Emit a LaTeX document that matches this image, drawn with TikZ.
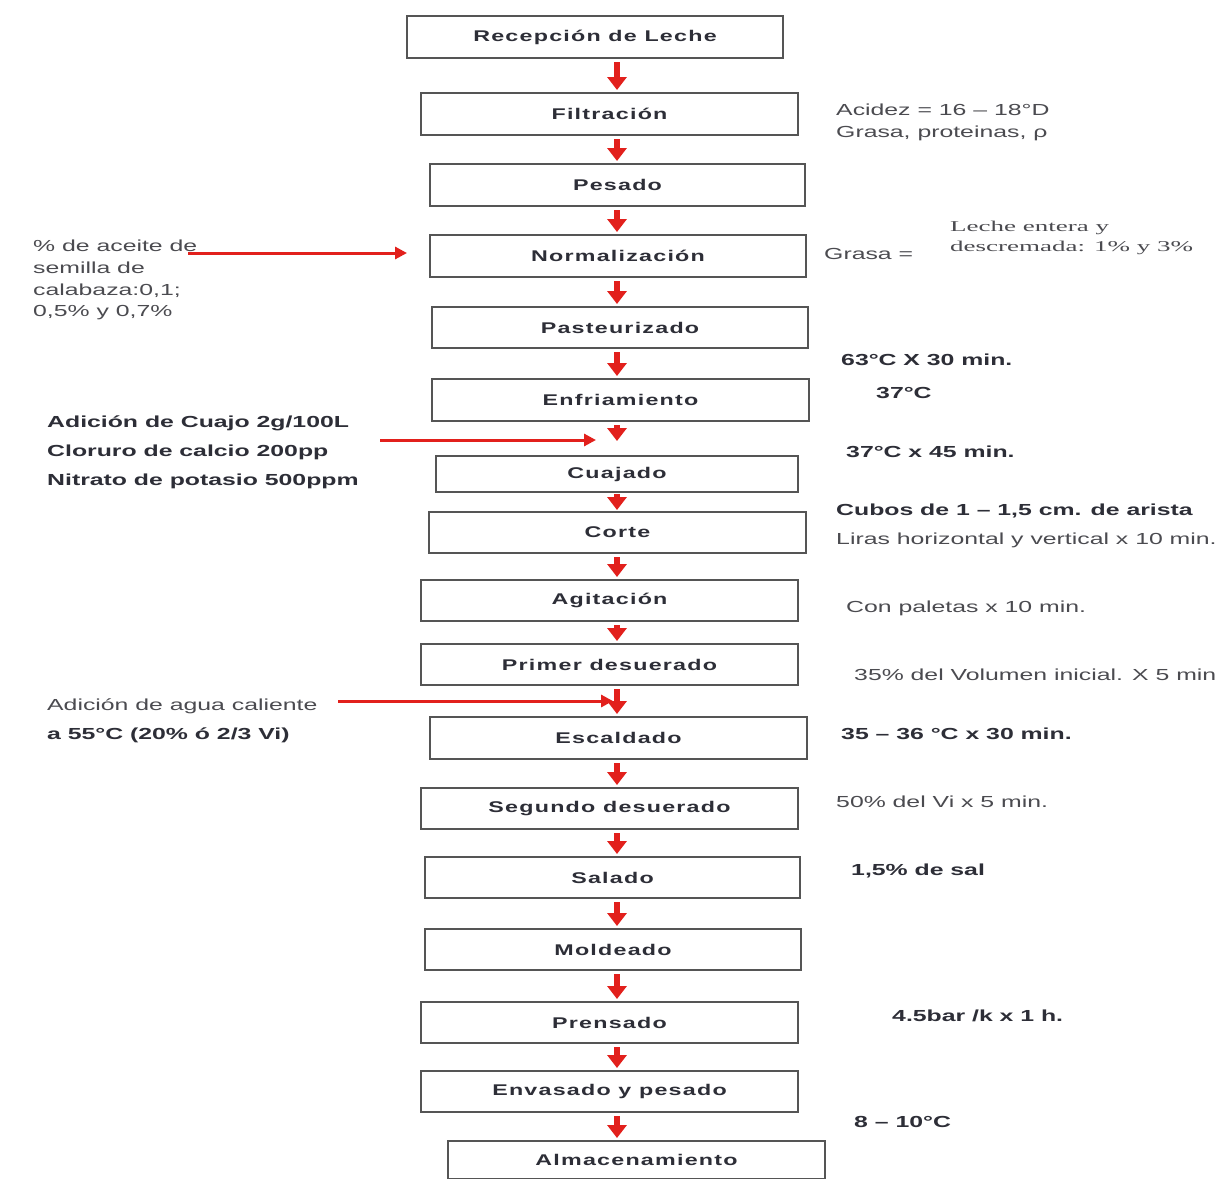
\documentclass[tikz,border=0pt]{standalone}
\usepackage{fontspec}
\usetikzlibrary{arrows.meta}
\newfontfamily\lsans[FakeStretch=1.55]{Liberation Sans}
\newfontfamily\boxsans[FakeStretch=1.5,LetterSpace=8]{Liberation Sans}
\newfontfamily\lserif[FakeStretch=1.8]{Liberation Serif}
\definecolor{ink}{RGB}{45,46,55}
\definecolor{inkl}{RGB}{75,75,80}
\definecolor{frame}{RGB}{85,85,85}
\definecolor{flow}{RGB}{226,32,28}
\begin{document}
\begin{tikzpicture}[x=1pt,y=-1pt,
 stepbox/.style={draw=frame, line width=2pt, fill=white, inner sep=0pt, minimum height=41pt, text=ink, font=\boxsans\bfseries\fontsize{15.5}{18}\selectfont},
 down/.style={draw=flow, line width=6pt, -{Triangle[width=19pt,length=13pt]}, shorten <=3pt, shorten >=2pt},
 side/.style={draw=flow, line width=3pt, -{Triangle[width=12pt,length=12pt]}},
 note/.style={anchor=base west, inner sep=0pt, text=inkl, font=\lsans\fontsize{16}{19}\selectfont},
 bnote/.style={note, text=ink, font=\lsans\bfseries\fontsize{16}{19}\selectfont},
 snote/.style={note, font=\lserif\fontsize{15}{18}\selectfont}]
\useasboundingbox (0,0) rectangle (1225,1178);
\fill[white] (0,0) rectangle (1225,1178);

% process boxes
\node[stepbox, minimum width=376pt, minimum height=42pt] (b1) at (595,37) {Recepción de Leche};
\node[stepbox, minimum width=377pt, minimum height=42pt] (b2) at (609.5,114) {Filtración};
\node[stepbox, minimum width=375pt, minimum height=42pt] (b3) at (617.5,185) {Pesado};
\node[stepbox, minimum width=376pt, minimum height=42pt] (b4) at (618,256) {Normalización};
\node[stepbox, minimum width=376pt] (b5) at (620,327.5) {Pasteurizado};
\node[stepbox, minimum width=377pt, minimum height=42pt] (b6) at (620.5,400) {Enfriamiento};
\node[stepbox, minimum width=362pt, minimum height=36pt] (b7) at (617,474) {Cuajado};
\node[stepbox, minimum width=377pt] (b8) at (617.5,532.5) {Corte};
\node[stepbox, minimum width=377pt] (b9) at (609.5,600.5) {Agitación};
\node[stepbox, minimum width=377pt] (b10) at (609.5,664.5) {Primer desuerado};
\node[stepbox, minimum width=377pt, minimum height=42pt] (b11) at (618.5,738) {Escaldado};
\node[stepbox, minimum width=377pt] (b12) at (609.5,808.5) {Segundo desuerado};
\node[stepbox, minimum width=375pt] (b13) at (612.5,877.5) {Salado};
\node[stepbox, minimum width=376pt] (b14) at (613,949.5) {Moldeado};
\node[stepbox, minimum width=377pt] (b15) at (609.5,1022.5) {Prensado};
\node[stepbox, minimum width=377pt] (b16) at (609.5,1091.5) {Envasado y pesado};
\node[stepbox, minimum width=377pt, minimum height=38pt] (b17) at (636.5,1160) {Almacenamiento};

% flow axis and free ends
\coordinate (ax) at (617,0);
\coordinate (cj) at (617,441);
\coordinate (n0) at (188,253);
\coordinate (n1) at (407,253);
\coordinate (q0) at (380,440);
\coordinate (q1) at (596,440);
\coordinate (w0) at (338,701);
\coordinate (w1) at (613,701);

% vertical arrows
\draw[down] (b1.south -| ax) -- (b2.north -| ax);
\draw[down] (b2.south -| ax) -- (b3.north -| ax);
\draw[down] (b3.south -| ax) -- (b4.north -| ax);
\draw[down] (b4.south -| ax) -- (b5.north -| ax);
\draw[down] (b5.south -| ax) -- (b6.north -| ax);
\draw[down, shorten >=0pt] (b6.south -| ax) -- (cj);
\draw[down, shorten <=1pt, shorten >=1pt] (b7.south -| ax) -- (b8.north -| ax);
\draw[down] (b8.south -| ax) -- (b9.north -| ax);
\draw[down] (b9.south -| ax) -- (b10.north -| ax);
\draw[down] (b10.south -| ax) -- (b11.north -| ax);
\draw[down] (b11.south -| ax) -- (b12.north -| ax);
\draw[down] (b12.south -| ax) -- (b13.north -| ax);
\draw[down] (b13.south -| ax) -- (b14.north -| ax);
\draw[down] (b14.south -| ax) -- (b15.north -| ax);
\draw[down] (b15.south -| ax) -- (b16.north -| ax);
\draw[down] (b16.south -| ax) -- (b17.north -| ax);

% side inputs
\draw[side] (n0) -- (n1);
\draw[side] (q0) -- (q1);
\draw[side] (w0) -- (w1);

% right notes
\node[note] (r1a) at (836,115) {Acidez = 16 – 18°D};
\node[note] (r1b) at (836,137) {Grasa, proteinas, ρ};
\node[note] (r4a) at (824,259) {Grasa =};
\node[snote] (r4b) at (950,231) {Leche entera y};
\node[snote] (r4c) at (950,251) {descremada: 1\% y 3\%};
\node[bnote] (r5) at (841,365) {63°C X 30 min.};
\node[bnote] (r6) at (876,398) {37°C};
\node[bnote] (r7) at (846,457) {37°C x 45 min.};
\node[bnote] (r8a) at (836,515) {Cubos de 1 – 1,5 cm. de arista};
\node[note] (r8b) at (836,544) {Liras horizontal y vertical x 10 min.};
\node[note] (r9) at (846,612) {Con paletas x 10 min.};
\node[note] (r10) at (854,680) {35\% del Volumen inicial. X 5 min};
\node[bnote] (r11) at (841,739) {35 – 36 °C x 30 min.};
\node[note] (r12) at (836,807) {50\% del Vi x 5 min.};
\node[bnote] (r13) at (851,875) {1,5\% de sal};
\node[bnote] (r15) at (892,1021) {4.5bar /k x 1 h.};
\node[bnote] (r16) at (854,1127) {8 – 10°C};

% left notes
\node[note] (l1a) at (33,251) {\% de aceite de};
\node[note] (l1b) at (33,273) {semilla de};
\node[note] (l1c) at (33,295) {calabaza:0,1;};
\node[note] (l1d) at (33,316) {0,5\% y 0,7\%};
\node[bnote] (l2a) at (47,427) {Adición de Cuajo 2g/100L};
\node[bnote] (l2b) at (47,456) {Cloruro de calcio 200pp};
\node[bnote] (l2c) at (47,485) {Nitrato de potasio 500ppm};
\node[note] (l3a) at (47,710) {Adición de agua caliente};
\node[bnote] (l3b) at (47,739) {a 55°C (20\% ó 2/3 Vi)};
\end{tikzpicture}
\end{document}
